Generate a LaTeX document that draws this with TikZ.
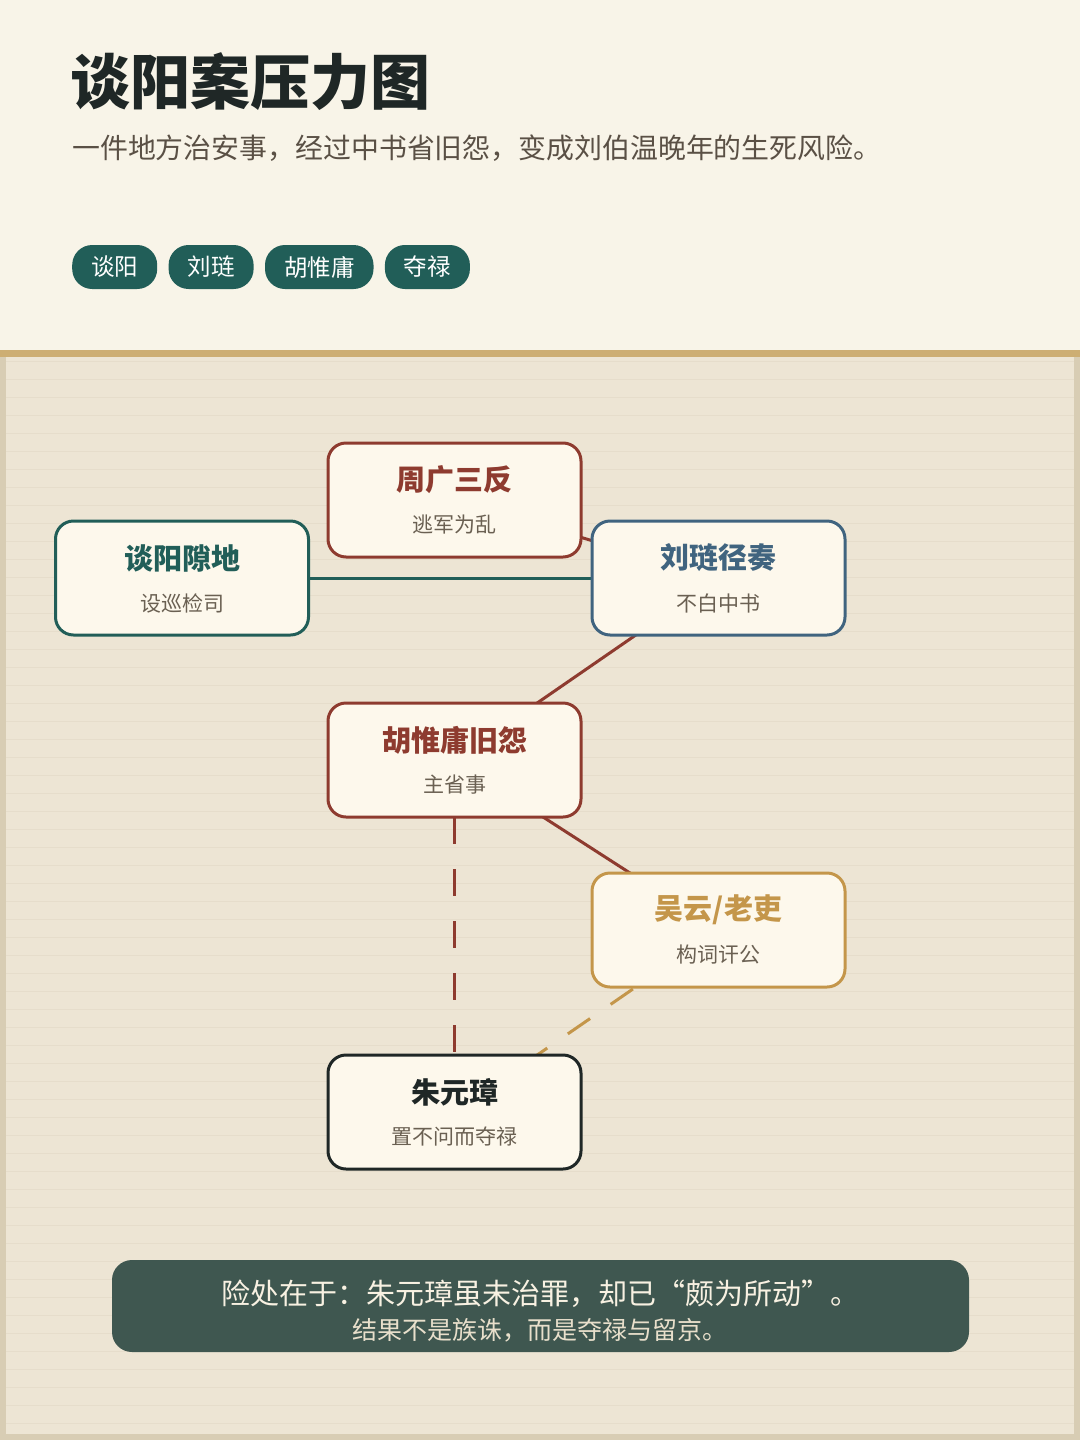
\documentclass[tikz,border=0pt]{standalone}
\usepackage{fontspec}
\setmainfont{Noto Sans CJK SC}
\usetikzlibrary{positioning}
\definecolor{hdrbg}{HTML}{F8F4E8}
\definecolor{goldband}{HTML}{CDAE73}
\definecolor{panelbg}{HTML}{EDE5D4}
\definecolor{panelline}{HTML}{E6DDCB}
\definecolor{panelborder}{HTML}{D8CDB4}
\definecolor{cteal}{HTML}{215E58}
\definecolor{cred}{HTML}{8E3B2F}
\definecolor{cblue}{HTML}{40647F}
\definecolor{cgold}{HTML}{C4964A}
\definecolor{cdark}{HTML}{1F2726}
\definecolor{nodefill}{HTML}{FDF8EC}
\definecolor{subtext}{HTML}{6A6052}
\definecolor{hdrsub}{HTML}{5A5045}
\definecolor{notebg}{HTML}{3F5750}
\definecolor{notetext}{HTML}{F8F1E2}
\definecolor{notesub}{HTML}{E8DFCB}
\tikzset{
  box/.style={draw=#1, line width=3pt, fill=nodefill, rounded corners=18pt,
    minimum width=253pt, minimum height=114pt, inner sep=0pt},
  boxtitle/.style={text=#1, font=\fontsize{29pt}{34pt}\selectfont\bfseries, inner sep=0pt},
  boxsub/.style={text=subtext, font=\fontsize{21pt}{25pt}\selectfont, inner sep=0pt},
  tag/.style={fill=cteal, text=white, rounded corners=20pt, minimum height=44pt,
    inner xsep=19pt, inner ysep=0pt, font=\fontsize{23.5pt}{28pt}\selectfont, anchor=west},
  link/.style={draw=#1, line width=3pt},
  dlink/.style={draw=#1, line width=3pt, dash pattern=on 27pt off 25pt},
}
\begin{document}
\begin{tikzpicture}[x=1pt,y=-1pt]
\useasboundingbox (0,0) rectangle (1080,1440);
% backgrounds
\fill[hdrbg] (0,0) rectangle (1080,350);
\fill[panelborder] (0,357) rectangle (1080,1440);
\fill[panelbg] (6,357) rectangle (1074,1434);
\foreach \yy in {361,379,...,1433} \draw[panelline, line width=1pt] (6,\yy) -- (1074,\yy);
\fill[goldband] (0,350) rectangle (1080,357);
% header
\node[anchor=west, inner sep=0pt, text=cdark, font=\fontsize{60pt}{66pt}\selectfont\bfseries] (title) at (70,82) {谈阳案压力图};
\node[anchor=west, inner sep=0pt, text=hdrsub, font=\fontsize{27.9pt}{32pt}\selectfont] (subtitle) at (72,148) {一件地方治安事，经过中书省旧怨，变成刘伯温晚年的生死风险。};
\node[tag] (t1) at (72,267) {谈阳};
\node[tag, right=11pt of t1.east, anchor=west] (t2) {刘琏};
\node[tag, right=11pt of t2.east, anchor=west] (t3) {胡惟庸};
\node[tag, right=11pt of t3.east, anchor=west] (t4) {夺禄};
% node centres
\coordinate (czhou) at (454.5,500);
\coordinate (ctan) at (182,578);
\coordinate (cliu) at (718.5,578);
\coordinate (chu) at (454.5,760);
\coordinate (cwu) at (718.5,930);
\coordinate (czhu) at (454.5,1112);
\coordinate (chub) at (454.5,817);
% connectors (behind boxes)
\draw[link=cteal] (ctan) -- (cliu);
\draw[link=cred] (czhou) -- (cliu);
\draw[link=cred] (cliu) -- (chu);
\draw[link=cred] (chu) -- (cwu);
\draw[dlink=cred] (chub) -- (czhu);
\draw[dlink=cgold] (cwu) -- (czhu);
\node[box=cred] (zhou) at (czhou) {};
\node[box=cteal] (tan) at (ctan) {};
\node[box=cblue] (liu) at (cliu) {};
\node[box=cred] (hu) at (chu) {};
\node[box=cgold] (wu) at (cwu) {};
\node[box=cdark] (zhu) at (czhu) {};
% texts
\node[boxtitle=cred] (zhou-t) at ([yshift=20pt]zhou.center) {周广三反};
\node[boxsub] (zhou-s) at ([yshift=-25pt]zhou.center) {逃军为乱};
\node[boxtitle=cteal] (tan-t) at ([yshift=20pt]tan.center) {谈阳隙地};
\node[boxsub] (tan-s) at ([yshift=-25pt]tan.center) {设巡检司};
\node[boxtitle=cblue] (liu-t) at ([yshift=20pt]liu.center) {刘琏径奏};
\node[boxsub] (liu-s) at ([yshift=-25pt]liu.center) {不白中书};
\node[boxtitle=cred] (hu-t) at ([yshift=20pt]hu.center) {胡惟庸旧怨};
\node[boxsub] (hu-s) at ([yshift=-25pt]hu.center) {主省事};
\node[boxtitle=cgold] (wu-t) at ([yshift=20pt]wu.center) {吴云/老吏};
\node[boxsub] (wu-s) at ([yshift=-25pt]wu.center) {构词讦公};
\node[boxtitle=cdark] (zhu-t) at ([yshift=20pt]zhu.center) {朱元璋};
\node[boxsub] (zhu-s) at ([yshift=-25pt]zhu.center) {置不问而夺禄};
% bottom note
\node[fill=notebg, rounded corners=20pt, minimum width=857pt, minimum height=92pt, inner sep=0pt] (note) at (540.5,1306) {};
\node[text=notetext, inner sep=0pt, font=\fontsize{29pt}{34pt}\selectfont] (note-1) at (540,1294) {险处在于：朱元璋虽未治罪，却已“颇为所动”。};
\node[text=notesub, inner sep=0pt, font=\fontsize{25pt}{29pt}\selectfont] (note-2) at (539.5,1330) {结果不是族诛，而是夺禄与留京。};
\end{tikzpicture}
\end{document}
